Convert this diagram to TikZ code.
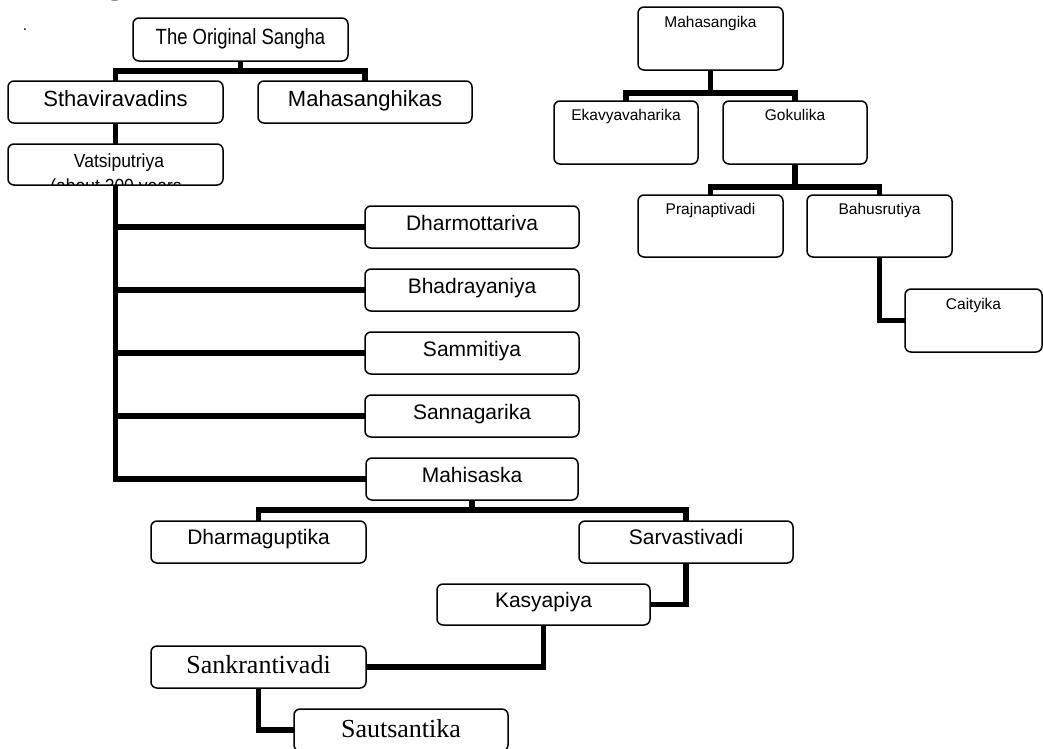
\documentclass[tikz,border=0pt]{standalone}
\usepackage{fontspec}
\setmainfont{Liberation Sans}
\newfontfamily\arialn[FakeStretch=0.84]{Liberation Sans}
\newfontfamily\arialv[FakeStretch=0.92]{Liberation Sans}
\newfontfamily\tnr{Liberation Serif}
\newcommand\mybox[5]{\node[box, minimum width={#4-#2}, minimum height={#5-#3}] (#1) at ({(#2+#4)/2},{(#3+#5)/2}) {};}
\begin{document}
\begin{tikzpicture}[x=1pt,y=-1pt,
  box/.style={draw, line width=1.5pt, rounded corners=6pt, inner sep=0pt, outer sep=0pt},
  conn/.style={line width=5.1pt, line join=miter},
  lbl/.style={anchor=base, inner sep=0pt, outer sep=0pt},
  fbig/.style={font=\fontsize{22}{26}\selectfont},
  fnar/.style={font=\arialn\fontsize{22}{26}\selectfont},
  fvat/.style={font=\arialv\fontsize{19}{23}\selectfont},
  fmid/.style={font=\fontsize{21}{25}\selectfont},
  fser/.style={font=\tnr\fontsize{26}{30}\selectfont},
  fsml/.style={font=\fontsize{15.5}{19}\selectfont},
]
\useasboundingbox (0,0) rectangle (1043,748);
\fill[white] (0,0) rectangle (1043,748);
\clip (0,0) rectangle (1043,748);

% fragments at top left
\node[lbl, font=\bfseries\fontsize{40}{44}\selectfont] (frag) at (116,-7.5) {g};
\node[lbl, fsml] (dot) at (25,30) {.};

% boxes - left tree
\mybox{orig}{133}{18}{348}{61}
\mybox{sthav}{8}{81}{223}{123}
\mybox{mahas}{258}{81}{472}{123}
\mybox{vats}{8}{144}{223}{185}
\mybox{dharmo}{365}{206}{579}{248}
\mybox{bhadr}{365}{269}{579}{311}
\mybox{samm}{365}{332}{579}{374}
\mybox{sanna}{365}{395}{579}{437}
\mybox{mahis}{366}{458}{578}{500}
\mybox{dharmag}{151}{521}{366}{563}
\mybox{sarv}{579}{521}{793}{563}
\mybox{kasy}{437}{584}{650}{625}
\mybox{sankr}{151}{646}{366}{688}
\mybox{sauts}{294}{709}{508}{751}
% boxes - right tree
\mybox{mahasangika}{638}{7}{783}{70}
\mybox{ekav}{554}{101}{698}{164}
\mybox{gok}{723}{101}{867}{164}
\mybox{prajn}{638}{195}{783}{257}
\mybox{bahus}{807}{195}{952}{257}
\mybox{caity}{905}{289}{1042}{352}

% connectors - left tree
\draw[conn] (orig.south) -- (orig.south |- 0,71);
\draw[conn] (sthav.north) |- (mahas.north |- 0,71) -- (mahas.north);
\draw[conn] (sthav.south) -- (vats.north);
\draw[conn] (vats.south) |- (mahis.west);
\foreach \n in {dharmo,bhadr,samm,sanna}
  \draw[conn] (\n.west) -- (\n.west -| vats.south);
\draw[conn] (mahis.south) -- (mahis.south |- 0,510);
\draw[conn] (dharmag.north) |- (sarv.north |- 0,510) -- (sarv.north);
\draw[conn] (sarv.south) |- (kasy.east);
\draw[conn] (kasy.south) |- (sankr.east);
\draw[conn] (sankr.south) |- (sauts.west);
% connectors - right tree
\draw[conn] (mahasangika.south) -- (mahasangika.south |- 0,93);
\draw[conn] (ekav.north) |- (gok.north |- 0,93) -- (gok.north);
\draw[conn] (gok.south) -- (gok.south |- 0,187);
\draw[conn] (prajn.north) |- (bahus.north |- 0,187) -- (bahus.north);
\draw[conn] (bahus.south) |- (caity.west);

% labels
\node[lbl, fnar] (t-orig) at (240.5,44) {The Original Sangha};
\node[lbl, fbig] (t-sthav) at (115.5,106) {Sthaviravadins};
\node[lbl, fbig] (t-mahas) at (365,106) {Mahasanghikas};
\begin{scope}
  \clip[rounded corners=6pt] (8,144) rectangle (223,185);
  \node[lbl, fvat] (t-vats) at (119,167) {Vatsiputriya};
  \node[lbl, fvat] (t-vats2) at (116,192) {(about 200 years};
\end{scope}
\node[lbl, fmid] (t-dharmo) at (472,230) {Dharmottariva};
\node[lbl, fmid] (t-bhadr) at (472,293) {Bhadrayaniya};
\node[lbl, fmid] (t-samm) at (472,356) {Sammitiya};
\node[lbl, fmid] (t-sanna) at (472,419) {Sannagarika};
\node[lbl, fmid] (t-mahis) at (472,482) {Mahisaska};
\node[lbl, fmid] (t-dharmag) at (258.5,544) {Dharmaguptika};
\node[lbl, fmid] (t-sarv) at (686,544) {Sarvastivadi};
\node[lbl, fmid] (t-kasy) at (543.5,607) {Kasyapiya};
\node[lbl, fser] (t-sankr) at (258.5,673) {Sankrantivadi};
\node[lbl, fser] (t-sauts) at (401,737) {Sautsantika};
\node[lbl, fsml] (t-mahasangika) at (710.5,27) {Mahasangika};
\node[lbl, fsml] (t-ekav) at (626,120) {Ekavyavaharika};
\node[lbl, fsml] (t-gok) at (795,120) {Gokulika};
\node[lbl, fsml] (t-prajn) at (710.5,214) {Prajnaptivadi};
\node[lbl, fsml] (t-bahus) at (879.5,214) {Bahusrutiya};
\node[lbl, fsml] (t-caity) at (973.5,309) {Caityika};
\end{tikzpicture}
\end{document}
